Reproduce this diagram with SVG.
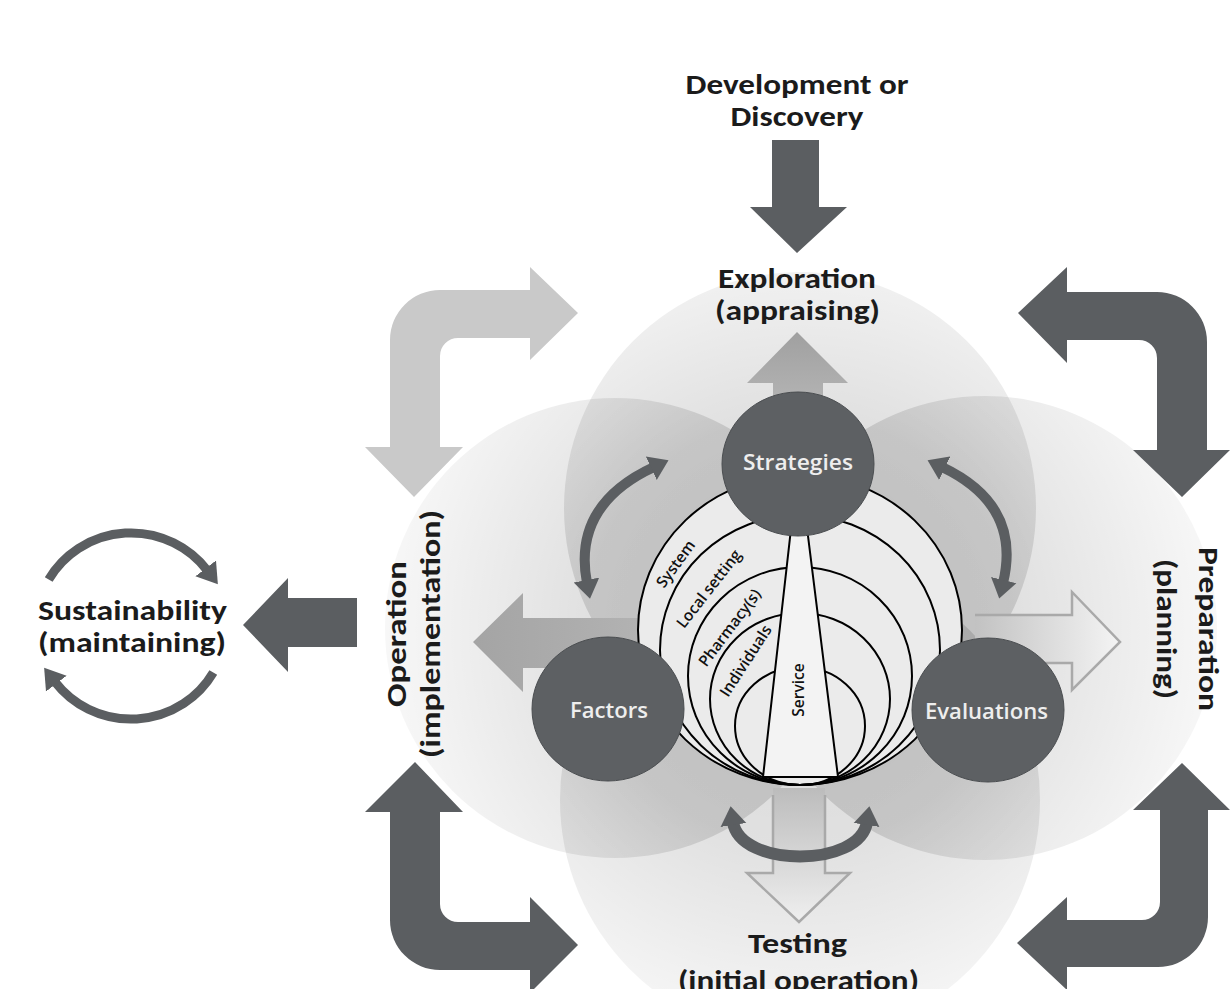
<svg xmlns="http://www.w3.org/2000/svg" width="1232" height="989" viewBox="0 0 1232 989">
<style>
.big{font-family:Carlito,Calibri,Lato,"Open Sans",sans-serif;font-weight:700;font-size:28px;fill:#1b1b1b}
.node{fill:#5d6063;stroke:#4a4d50;stroke-width:1}
.nl{font-family:"Open Sans",sans-serif;font-weight:600;font-size:21px;fill:#eeeeee}
.sl{font-family:"Open Sans",sans-serif;font-weight:600;font-size:15.5px;fill:#111111}
.dark{fill:#5b5e61}
.arc{fill:none;stroke:#000;stroke-width:2}
.curve{fill:none;stroke:#5b5e61;stroke-width:10;marker-start:url(#hd);marker-end:url(#hd)}
.loop{fill:none;stroke:#5b5e61;stroke-width:9;marker-end:url(#hs)}
.lobe{fill:url(#lobe)}
.hollow{fill:none;stroke:#a9a9a9;stroke-width:2.5;stroke-linejoin:miter}
</style>
<defs>
<radialGradient id="lobe" gradientUnits="userSpaceOnUse" cx="800" cy="630" r="430">
<stop offset="0" stop-color="#000" stop-opacity="0.15"/>
<stop offset="0.5" stop-color="#000" stop-opacity="0.12"/>
<stop offset="1" stop-color="#000" stop-opacity="0.025"/>
</radialGradient>
<linearGradient id="upG" x1="0" y1="0" x2="0" y2="1"><stop offset="0" stop-color="#a0a0a0"/><stop offset="1" stop-color="#b6b6b6"/></linearGradient>
<linearGradient id="leftG" x1="0" y1="0" x2="1" y2="0"><stop offset="0" stop-color="#a4a4a4"/><stop offset="1" stop-color="#b4b4b4"/></linearGradient>
<linearGradient id="rightG" x1="0" y1="0" x2="1" y2="0"><stop offset="0" stop-color="#c2c2c2"/><stop offset="1" stop-color="#f4f4f4"/></linearGradient>
<linearGradient id="downG" x1="0" y1="0" x2="0" y2="1"><stop offset="0" stop-color="#bcbcbc"/><stop offset="1" stop-color="#efefef"/></linearGradient>
<marker id="hd" viewBox="0 -14 20 28" refX="3" refY="0" markerWidth="20" markerHeight="28" markerUnits="userSpaceOnUse" orient="auto-start-reverse"><path d="M0,-13 L19,0 L0,13 Z" fill="#5b5e61"/></marker>
<marker id="hs" viewBox="0 -14 22 28" refX="2" refY="0" markerWidth="22" markerHeight="28" markerUnits="userSpaceOnUse" orient="auto"><path d="M0,-13 L20,0 L0,13 Z" fill="#5b5e61"/></marker>
</defs>
<rect width="1232" height="989" fill="#ffffff"/>

<g id="lobes">
<circle class="lobe" cx="800" cy="508" r="236"/>
<circle class="lobe" cx="615" cy="628" r="230"/>
<circle class="lobe" cx="985" cy="628" r="232"/>
<circle class="lobe" cx="800" cy="800" r="240"/>
</g>

<g id="connectors">
<path class="dark" d="M772,140 L819,140 L819,207 L847,207 L797,253 L750,207 L772,207 Z"/>
<path fill="#c9c9c9" d="M530,267 L578,313 L530,360 L530,338 L458,338 A18,18 0 0 0 440,356 L440,447 L463,447 L414,497 L365,447 L390,447 L390,340 A50,50 0 0 1 440,290 L530,290 Z"/>
<path class="dark" d="M1067,267 L1018,313 L1067,363 L1067,340 L1139,340 A18,18 0 0 1 1157,358 L1157,450 L1133,450 L1182,497 L1230,450 L1207,450 L1207,342 A50,50 0 0 0 1157,292 L1067,292 Z"/>
<path class="dark" d="M365,812 L415,762 L463,812 L440,812 L440,904 A18,18 0 0 0 458,922 L530,922 L530,897 L578,945 L530,993 L530,970 L440,970 A50,50 0 0 1 390,920 L390,812 Z"/>
<path class="dark" d="M1133,810 L1182,763 L1230,810 L1208,810 L1208,917 A50,50 0 0 1 1158,967 L1067,967 L1067,990 L1017,943 L1067,897 L1067,920 L1142,920 A18,18 0 0 0 1160,902 L1160,810 Z"/>
<path class="dark" d="M357,598 L357,647 L288,647 L288,672 L243,625 L288,578 L288,598 Z"/>
<path class="loop" d="M48.7,579.5 A95,93 0 0 1 206.9,570"/>
<path class="loop" d="M48.7,579.5 A95,93 0 0 1 206.9,570" transform="rotate(180 131 626)"/>
<path fill="url(#upG)" d="M797,332 L848,383 L823,383 L823,412 L773,412 L773,383 L747,383 Z"/>
<path fill="url(#leftG)" d="M473,642 L523,593 L523,618 L660,618 L660,668 L523,668 L523,692 Z"/>
<path fill="url(#rightG)" d="M975,615 L1072,615 L1072,592 L1120,642 L1072,690 L1072,663 L975,663 Z"/>
<path class="hollow" d="M975,615 L1072,615 L1072,592 L1120,642 L1072,690 L1072,663 L1040,663"/>
<path fill="url(#downG)" d="M773,788 L825,788 L825,873 L850,873 L799,922 L747,873 L773,873 Z"/>
<path class="hollow" d="M773,795 L773,873 L747,873 L799,922 L850,873 L825,873 L825,795"/>
</g>

<g id="model">
<ellipse class="arc" cx="800" cy="630" rx="162" ry="155" style="fill:#ebebeb"/>
<ellipse class="arc" cx="800" cy="650" rx="140" ry="135"/>
<ellipse class="arc" cx="800" cy="676" rx="112" ry="109"/>
<ellipse class="arc" cx="800" cy="699" rx="90" ry="86"/>
<ellipse class="arc" cx="800" cy="726" rx="65" ry="59"/>
<path d="M792,520 L806,520 L838,777 L763,777 Z" fill="#f3f3f3" stroke="#000" stroke-width="2"/>
<text class="sl" transform="translate(676,564) rotate(-54)" text-anchor="middle" dy="5">System</text>
<text class="sl" transform="translate(709,589) rotate(-52)" text-anchor="middle" dy="5">Local setting</text>
<text class="sl" transform="translate(730,628) rotate(-53)" text-anchor="middle" dy="5">Pharmacy(s)</text>
<text class="sl" transform="translate(746,661) rotate(-57)" text-anchor="middle" dy="5">Individuals</text>
<text class="sl" transform="translate(799,690) rotate(-90)" text-anchor="middle" dy="5">Service</text>
</g>

<g id="node-strategies">
<ellipse class="node" cx="798" cy="464" rx="76" ry="72"/>
<text class="nl" x="743" y="470" textLength="110" lengthAdjust="spacingAndGlyphs">Strategies</text>
</g>
<g id="node-factors">
<ellipse class="node" cx="608" cy="709" rx="76" ry="72"/>
<text class="nl" x="570" y="718" textLength="78" lengthAdjust="spacingAndGlyphs">Factors</text>
</g>
<g id="node-evaluations">
<ellipse class="node" cx="988" cy="710" rx="76" ry="72"/>
<text class="nl" x="925" y="719" textLength="123" lengthAdjust="spacingAndGlyphs">Evaluations</text>
</g>

<g id="cycle-arrows">
<path class="curve" d="M587,583 Q572,505 654,467"/>
<path class="curve" d="M1003,583 Q1022,505 942,467"/>
<path class="curve" style="stroke-width:12" d="M733,822 C740,868 860,868 867,822"/>
</g>

<g id="label-development">
<text class="big" x="685.5" y="94" textLength="223" lengthAdjust="spacingAndGlyphs">Development or</text>
<text class="big" x="730.5" y="126" textLength="133" lengthAdjust="spacingAndGlyphs">Discovery</text>
</g>
<g id="label-exploration">
<text class="big" x="718" y="288" textLength="158" lengthAdjust="spacingAndGlyphs">Exploration</text>
<text class="big" x="715" y="320" textLength="165" lengthAdjust="spacingAndGlyphs">(appraising)</text>
</g>
<g id="label-sustainability">
<text class="big" x="38" y="620" textLength="189" lengthAdjust="spacingAndGlyphs">Sustainability</text>
<text class="big" x="38" y="652" textLength="188" lengthAdjust="spacingAndGlyphs">(maintaining)</text>
</g>
<g id="label-operation" transform="translate(406,634) rotate(-90)">
<text class="big" x="-73" y="0" textLength="146" lengthAdjust="spacingAndGlyphs">Operation</text>
<text class="big" x="-124" y="34" textLength="248" lengthAdjust="spacingAndGlyphs">(implementation)</text>
</g>
<g id="label-preparation" transform="translate(1199,629) rotate(90)">
<text class="big" x="-82" y="0" textLength="164" lengthAdjust="spacingAndGlyphs">Preparation</text>
<text class="big" x="-70" y="42" textLength="140" lengthAdjust="spacingAndGlyphs">(planning)</text>
</g>
<g id="label-testing">
<text class="big" x="748" y="953" textLength="99" lengthAdjust="spacingAndGlyphs">Testing</text>
<text class="big" x="678" y="990" textLength="241" lengthAdjust="spacingAndGlyphs">(initial operation)</text>
</g>
</svg>
